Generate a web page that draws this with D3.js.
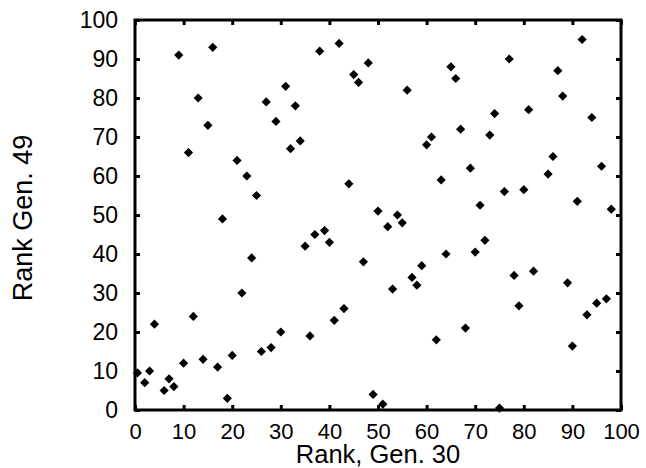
<!DOCTYPE html>
<html lang="en">
<head>
<meta charset="UTF-8" />
<title>Rank Gen. 30 vs Gen. 49</title>
<script src="https://d3js.org/d3.v7.min.js"></script>
<style>
    body { margin: 0; background: #fff; }
    svg text { font-family: 'Liberation Sans', Arial, sans-serif; fill: #000; }
    .axis .domain { display: none; }
    .axis line { stroke: #000; stroke-width: 3; }
</style>
</head>
<body>
<svg width="646" height="468"></svg>
<script>

// ranks
var rankGen30 = [0.5, 2, 3, 4, 6, 7, 8, 9, 10, 11, 12, 13, 14, 15, 16, 17, 18, 19, 20,
    21, 22, 23, 24, 25, 26, 27, 28, 29, 30, 31, 32, 33, 34, 35, 36, 37, 38, 39, 40,
    41, 42, 43, 44, 45, 46, 47, 48, 49, 50, 51, 52, 53, 54, 55, 56, 57, 58, 59, 60,
    61, 62, 63, 64, 65, 66, 67, 68, 69, 70, 71, 72, 73, 74, 75, 76, 77, 78, 79, 80,
    81, 82, 85, 86, 87, 88, 89, 90, 91, 92, 93, 94, 95, 96, 97, 98];
var rankGen49 = [9.5, 7, 10, 22, 5, 8, 6, 91, 12, 66, 24, 80, 13, 73, 93, 11, 49, 3, 14,
    64, 30, 60, 39, 55, 15, 79, 16, 74, 20, 83, 67, 78, 69, 42, 19, 45, 92, 46, 43,
    23, 94, 26, 58, 86, 84, 38, 89, 4, 51, 1.5, 47, 31, 50, 48, 82, 34, 32, 37, 68,
    70, 18, 59, 40, 88, 85, 72, 21, 62, 40.5, 52.5, 43.5, 70.5, 76, 0.5, 56, 90, 34.5, 26.7, 56.5,
    77, 35.6, 60.5, 65, 87, 80.5, 32.6, 16.4, 53.5, 95, 24.4, 75, 27.4, 62.5, 28.5, 51.5];
var xTicks = [0, 10, 20, 30, 40, 50, 60, 70, 80, 90, 100];
var yTicks = [0, 10, 20, 30, 40, 50, 60, 70, 80, 90, 100];

var points = rankGen30.map(function(d, i) { return {x: d, y: rankGen49[i]}; });

var svg = d3.select("svg"),
    margin = {top: 20, right: 25, bottom: 58, left: 135},
    width = +svg.attr("width") - margin.left - margin.right,
    height = +svg.attr("height") - margin.top - margin.bottom,
    g = svg.append("g").attr("transform", "translate(" + margin.left + "," + margin.top + ")");

var x = d3.scaleLinear().domain([0, 100]).range([0, width]);
var y = d3.scaleLinear().domain([0, 100]).range([height, 0]);

// bottom axis with labels, ticks pointing inward
g.append("g")
    .attr("class", "axis")
    .attr("transform", "translate(0," + height + ")")
    .call(d3.axisBottom(x).tickValues(xTicks).tickSize(-5).tickPadding(13))
    .selectAll("text").attr("font-size", 22);

// left axis
g.append("g")
    .attr("class", "axis")
    .call(d3.axisLeft(y).tickValues(yTicks).tickSize(-5).tickPadding(17))
    .selectAll("text").attr("font-size", 23);

// top and right ticks only
g.append("g")
    .attr("class", "axis")
    .call(d3.axisTop(x).tickValues(xTicks).tickSize(-5).tickFormat(""));
g.append("g")
    .attr("class", "axis")
    .attr("transform", "translate(" + width + ",0)")
    .call(d3.axisRight(y).tickValues(yTicks).tickSize(-5).tickFormat(""));

// frame
g.append("rect")
    .attr("width", width)
    .attr("height", height)
    .attr("fill", "none")
    .attr("stroke", "#000")
    .attr("stroke-width", 3);

// diamonds
var r = 4.6;
g.append("g")
    .selectAll("path")
    .data(points)
    .enter().append("path")
        .attr("transform", function(d) { return "translate(" + x(d.x) + "," + y(d.y) + ")"; })
        .attr("d", "M0," + (-r) + "L" + r + ",0L0," + r + "L" + (-r) + ",0Z")
        .attr("fill", "#000");

// axis titles
svg.append("text")
    .attr("x", margin.left + width / 2)
    .attr("y", 463)
    .attr("text-anchor", "middle")
    .attr("font-size", 25.5)
    .text("Rank, Gen. 30");

svg.append("text")
    .attr("transform", "translate(32,218) rotate(-90)")
    .attr("text-anchor", "middle")
    .attr("font-size", 27)
    .text("Rank Gen. 49");

</script>
</body>
</html>
